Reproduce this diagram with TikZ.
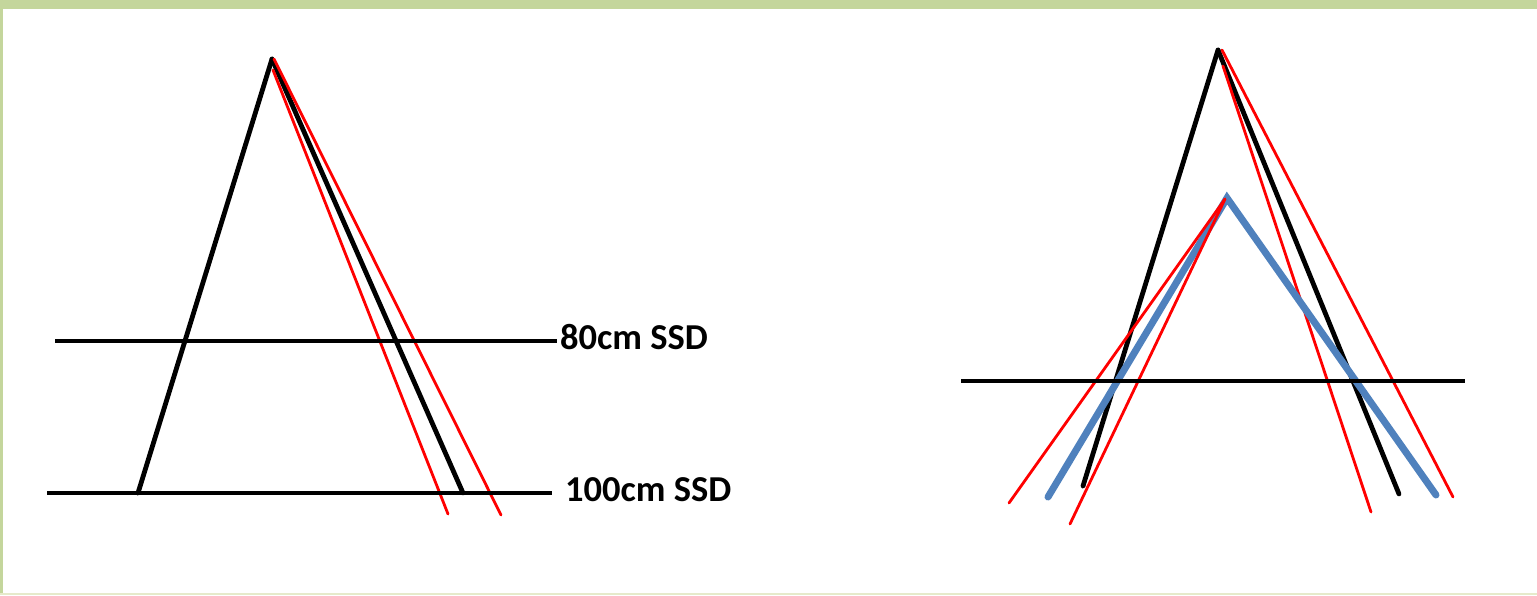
\documentclass[tikz,border=0pt]{standalone}
\usepackage{fontspec}
\setmainfont{Carlito}
\usetikzlibrary{positioning}
\definecolor{framegreen}{HTML}{C4D69C}
\definecolor{framepale}{HTML}{E6EACB}
\definecolor{fieldblue}{HTML}{4F81BD}
\begin{document}
\begin{tikzpicture}[x=1pt,y=-1pt,line cap=round,
    ray/.style={black,line width=4.8pt},
    edgeray/.style={red,line width=2.8pt},
    level/.style={black,line width=3.4pt,line cap=butt},
    field/.style={fieldblue,line width=7pt,line join=miter},
    ssdlabel/.style={anchor=base west,inner sep=0pt,font=\bfseries\fontsize{36.5}{40}\selectfont}]
    \useasboundingbox (0,0) rectangle (1537,595);
    % frame
    \fill[framegreen] (0,0) rectangle (1537,9);
    \fill[framegreen] (0,0) rectangle (3,595);
    \fill[framepale] (0,593) rectangle (1537,595);
    % left: source and two distances
    \coordinate (srcA) at (272,59);
    \coordinate (srcAin) at (273,70);
    \coordinate (srcAout) at (274,59);
    \draw[ray] (srcA) -- (138,493);
    \draw[ray] (srcA) -- (463,493);
    \draw[edgeray] (srcAout) -- (501,515);
    \draw[edgeray] (srcAin) -- (448,514);
    \node[ssdlabel] (ssd80) at (560,349) {80cm SSD};
    \node[ssdlabel] (ssd100) at (565,501) {100cm SSD};
    \coordinate (ssd80l) at (55,341);
    \coordinate (ssd80r) at (557,341);
    \coordinate (ssd100l) at (47,493);
    \coordinate (ssd100r) at (552,493);
    \draw[level] (ssd80l) -- (ssd80r);
    \draw[level] (ssd100l) -- (ssd100r);
    % right: two sources
    \coordinate (srcB) at (1218,50);
    \coordinate (srcBout) at (1222,50);
    \coordinate (srcBin) at (1223,66);
    \coordinate (srcC) at (1227,198);
    \coordinate (srcCred) at (1225,199);
    \draw[ray] (srcB) -- (1083,486);
    \draw[ray] (srcB) -- (1399,494);
    \draw[edgeray] (srcBout) -- (1453,497);
    \draw[edgeray] (srcBin) -- (1371,512);
    \draw[field] (1048,497) -- (srcC) -- (1436,495);
    \draw[edgeray] (srcCred) -- (1009,503);
    \draw[edgeray] (srcCred) -- (1070,524);
    \coordinate (surfl) at (961,381);
    \coordinate (surfr) at (1465,381);
    \draw[level] (surfl) -- (surfr);
\end{tikzpicture}
\end{document}
